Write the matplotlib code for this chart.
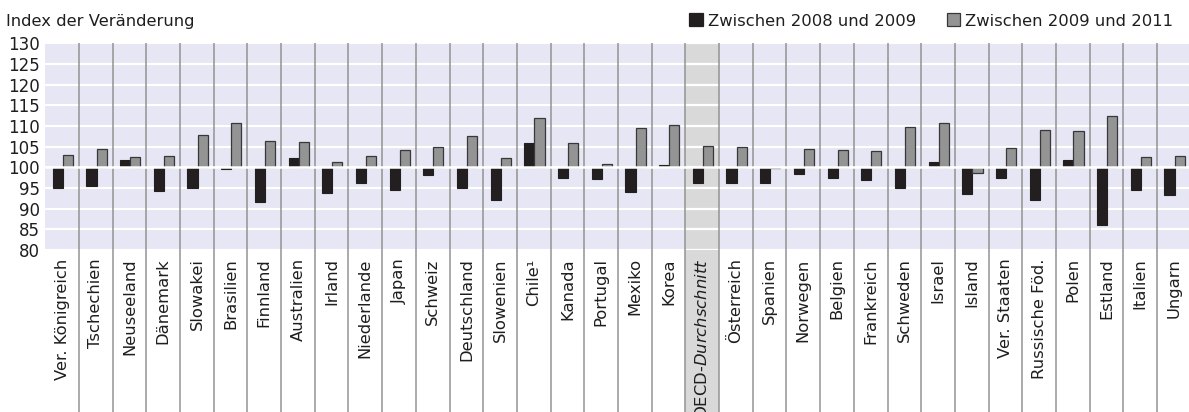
import matplotlib
matplotlib.use("Agg")
import matplotlib.pyplot as plt
from matplotlib.patches import Rectangle
from matplotlib.transforms import blended_transform_factory
import numpy as np

plt.rcParams["font.family"] = ["DejaVu Sans"]
plt.rcParams["mathtext.fontset"] = "dejavusans"

# Country labels (x axis)
countries = [
    "Ver. Königreich", "Tschechien", "Neuseeland", "Dänemark", "Slowakei",
    "Brasilien", "Finnland", "Australien", "Irland", "Niederlande", "Japan",
    "Schweiz", "Deutschland", "Slowenien", "Chile¹", "Kanada", "Portugal",
    "Mexiko", "Korea", "OECD-$\\it{Durchschnitt}$", "Österreich", "Spanien",
    "Norwegen", "Belgien", "Frankreich", "Schweden", "Israel", "Island",
    "Ver. Staaten", "Russische Föd.", "Polen", "Estland", "Italien", "Ungarn",
]

# Index of change (base = 100)
change_2008_2009 = [
    95.0, 95.5, 101.7, 94.3, 95.1, 99.6, 91.5, 102.2, 93.7, 96.3, 94.5,
    98.1, 94.9, 92.1, 106.0, 97.3, 97.2, 94.1, 100.5, 96.3, 96.3, 96.3,
    98.5, 97.3, 96.9, 95.0, 101.4, 93.6, 97.3, 92.2, 101.8, 86.0, 94.6, 93.4,
]
change_2009_2011 = [
    103.0, 104.4, 102.6, 102.7, 107.7, 110.6, 106.4, 106.1, 101.3, 102.7, 104.2,
    105.0, 107.6, 102.2, 111.9, 106.0, 100.8, 109.6, 110.3, 105.1, 104.8, 99.8,
    104.4, 104.3, 104.0, 109.8, 110.7, 98.6, 104.6, 109.1, 108.7, 112.5, 102.4, 102.8,
]

y_ticks = list(range(80, 131, 5))
baseline = 100
highlight = "OECD-$\\it{Durchschnitt}$"

legend_labels = ["Zwischen 2008 und 2009", "Zwischen 2009 und 2011"]
c_dark = "#231f20"
c_gray = "#949494"
c_panel = "#e6e6f4"
c_highlight = "#d9d9d9"
c_divider = "#939393"
c_text = "#1e1e1e"

W, H = 1189, 412
fig = plt.figure(figsize=(W / 100, H / 100), dpi=100)
ax = fig.add_axes([45.3 / W, 1 - 250 / H, 1145.4 / W, 206.7 / H])
ax.set_facecolor(c_panel)

x = np.arange(len(countries))
ax.set_xlim(-0.5, len(countries) - 0.5)
ax.set_ylim(80, 130)

# Highlighted column for the OECD average, reaching into the label area
hi = countries.index(highlight)
trans = blended_transform_factory(ax.transData, ax.transAxes)
ax.add_patch(Rectangle((hi - 0.5, -0.8), 1, 1.8, transform=trans,
                       facecolor=c_highlight, edgecolor="none",
                       clip_on=False, zorder=0.5))

# White horizontal grid
for yv in y_ticks:
    ax.axhline(yv, color="white", lw=1.6, zorder=1)

# Vertical dividers between countries
for xd in x[:-1] + 0.5:
    ax.plot([xd, xd], [1.0, -0.8], transform=trans, color=c_divider,
            lw=1.1, clip_on=False, zorder=1.5, solid_capstyle="butt")

dark = np.array(change_2008_2009)
light = np.array(change_2009_2011)
bw = 0.3
ax.bar(x - 0.13, dark - baseline, bottom=baseline, width=bw,
       color=c_dark, edgecolor=c_dark, lw=0.8, zorder=2)
ax.bar(x + 0.17, light - baseline, bottom=baseline, width=bw,
       color=c_gray, edgecolor="#383838", lw=0.9, zorder=2)

# Baseline line over the bars
ax.axhline(baseline, color="white", lw=1.8, zorder=3)

ax.set_yticks(y_ticks)
ax.set_yticklabels([str(v) for v in y_ticks], fontsize=12, color=c_text)
ax.set_xticks(x)
ax.set_xticklabels(countries, rotation=90, fontsize=11.8, color=c_text,
                   ha="center", va="top")
ax.tick_params(axis="both", length=0)
ax.tick_params(axis="y", pad=4)
ax.tick_params(axis="x", pad=6)
for s in ax.spines.values():
    s.set_visible(False)

# Title and legend along the top
fig.text(5.5 / W, 1 - 26 / H, "Index der Veränderung", fontsize=11.8,
         color=c_text, ha="left", va="baseline")

sq = 13.4
for px, col, ec, lab, tx in [
    (689.3, c_dark, c_dark, legend_labels[0], 708),
    (946.7, c_gray, "#383838", legend_labels[1], 965),
]:
    fig.add_artist(Rectangle((px / W, 1 - 26 / H), sq / W, sq / H,
                             transform=fig.transFigure, facecolor=col,
                             edgecolor=ec, lw=0.9))
    fig.text(tx / W, 1 - 26 / H, lab, fontsize=11.8, color=c_text,
             ha="left", va="baseline")

fig.savefig("out.png", dpi=100, facecolor="white")
